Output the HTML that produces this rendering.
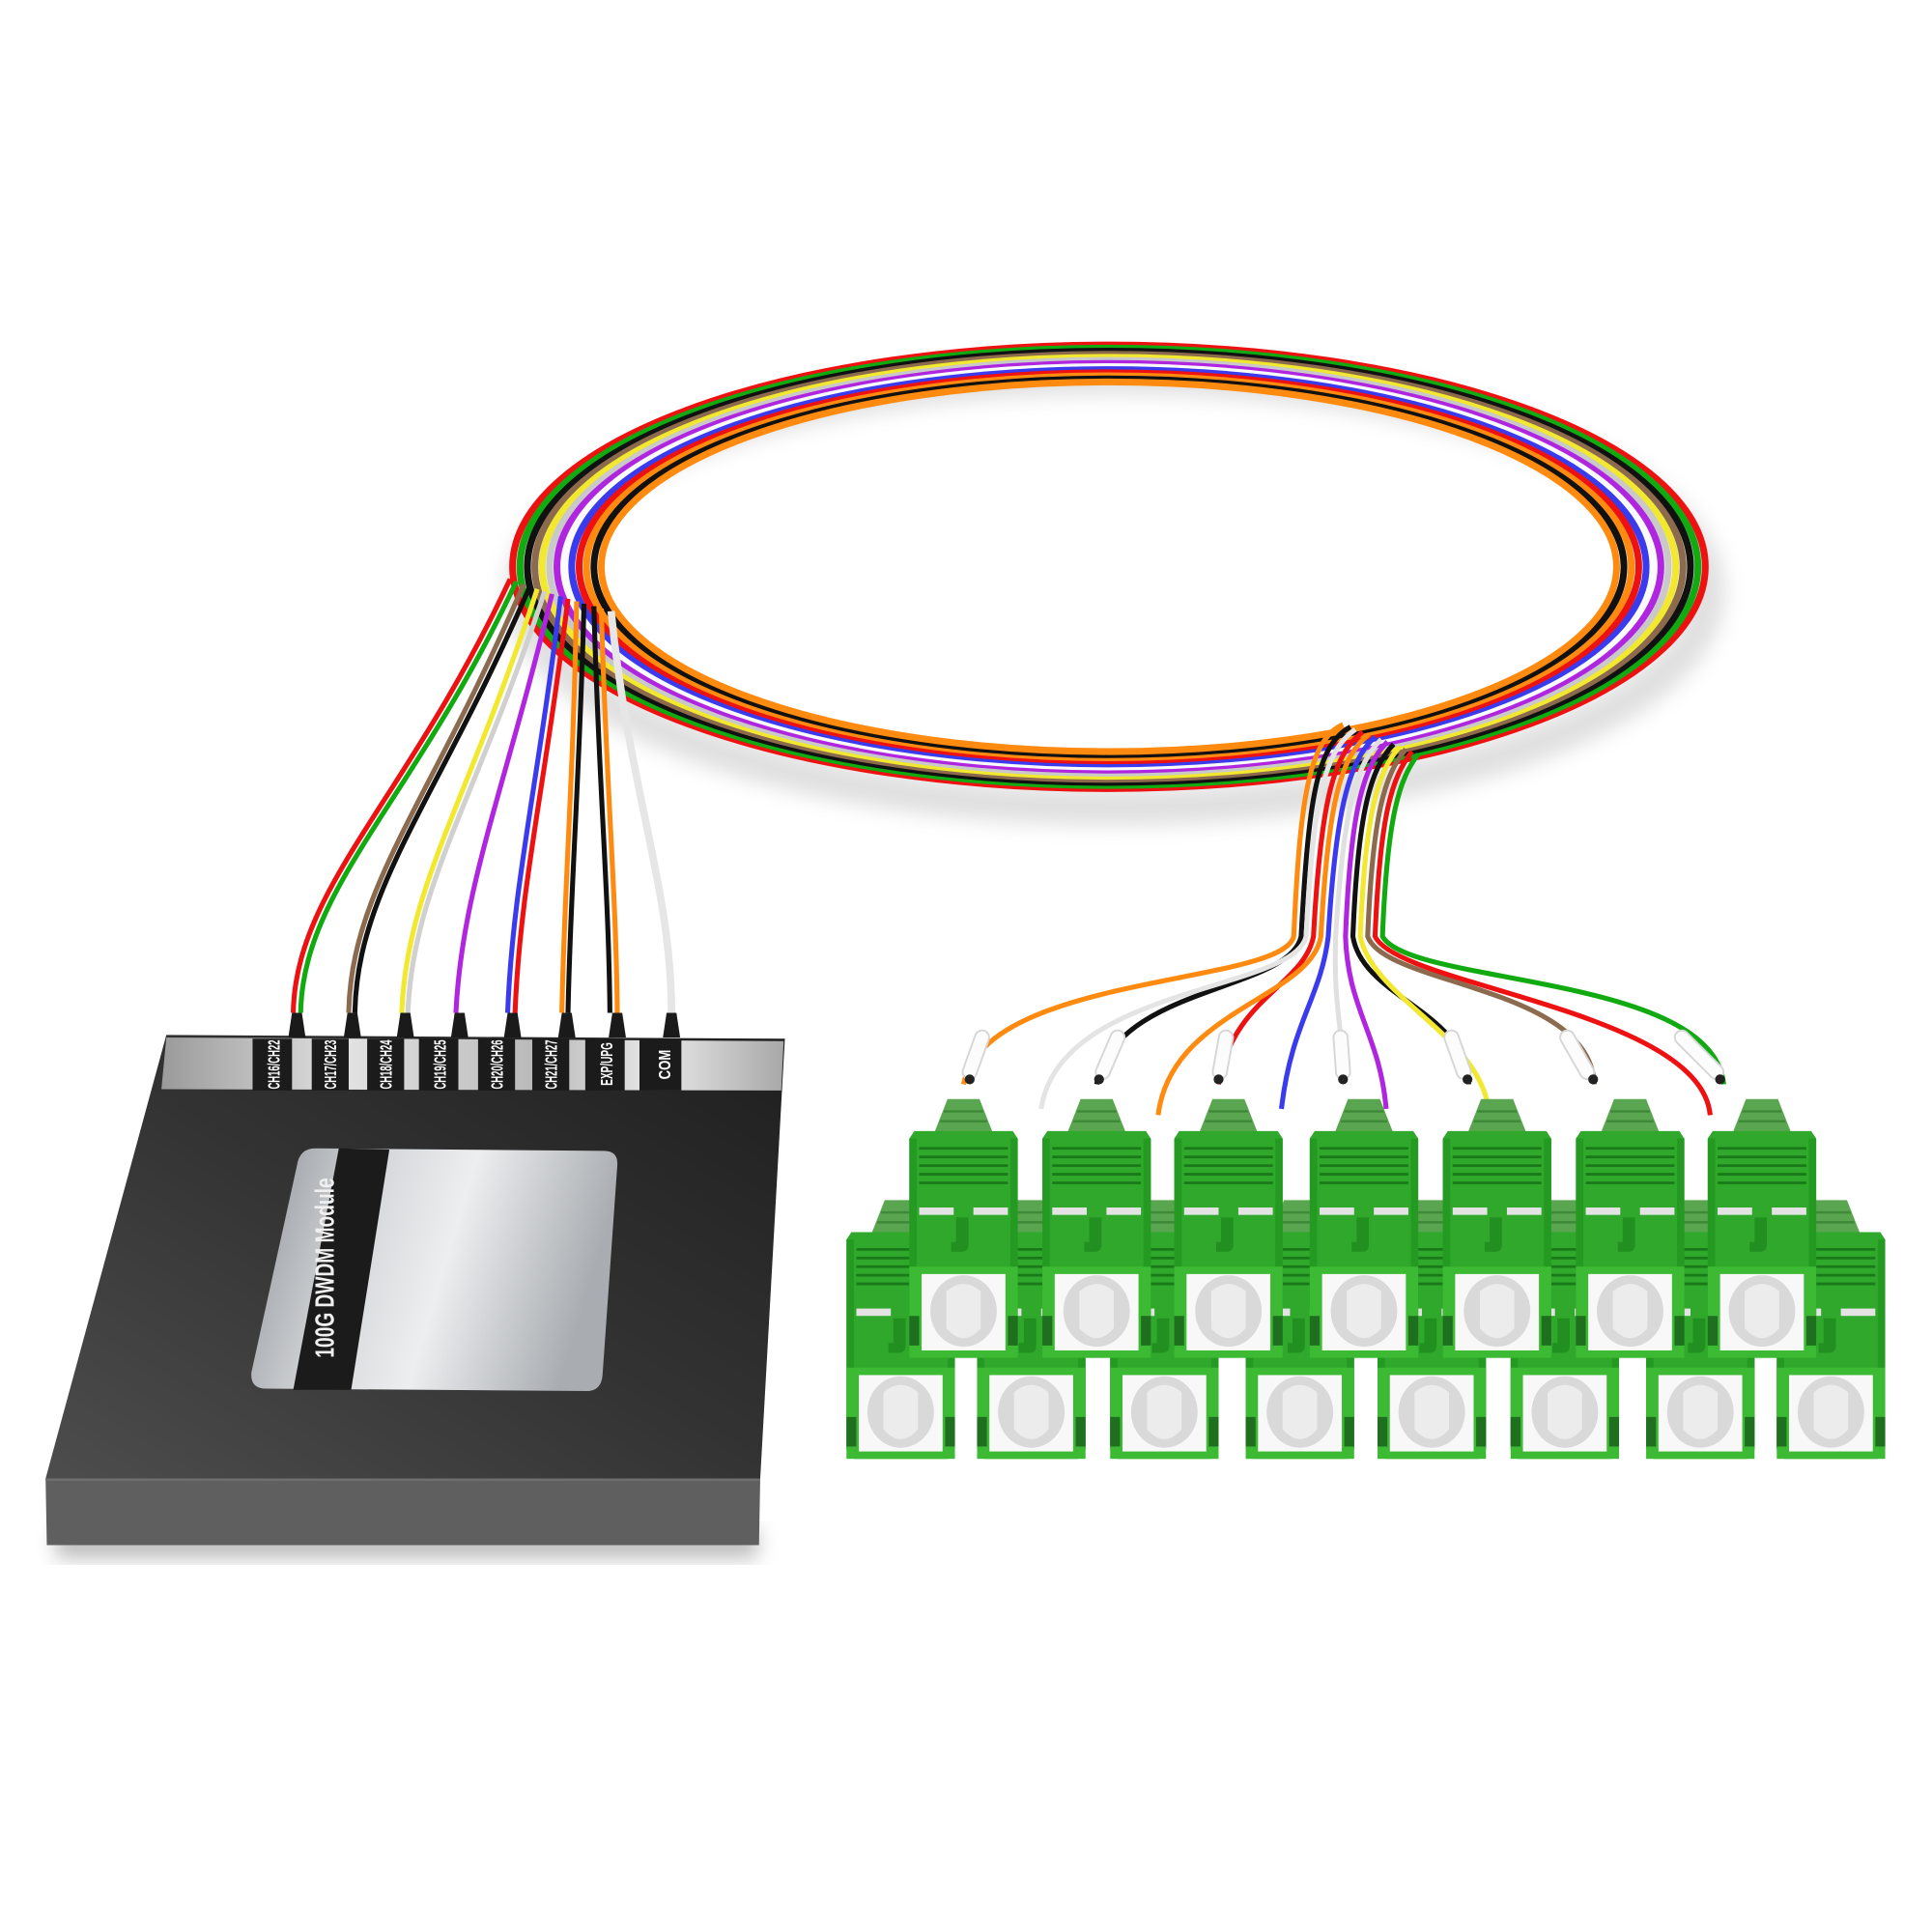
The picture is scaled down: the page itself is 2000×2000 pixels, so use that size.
<!DOCTYPE html>
<html><head><meta charset="utf-8"><style>
html,body{margin:0;padding:0;background:#fff;}
svg{display:block;}
</style></head><body>
<svg width="2000" height="2000" viewBox="0 0 1568 1568" xmlns="http://www.w3.org/2000/svg">
<defs>
<linearGradient id="topface" x1="0" y1="1" x2="1" y2="0">
<stop offset="0" stop-color="#4d4d4d"/><stop offset="0.5" stop-color="#333"/><stop offset="1" stop-color="#1f1f1f"/>
</linearGradient>
<linearGradient id="silver" x1="0" y1="0" x2="1" y2="0">
<stop offset="0" stop-color="#9a9a9a"/><stop offset="0.3" stop-color="#e2e2e2"/><stop offset="0.6" stop-color="#b9b9b9"/><stop offset="0.8" stop-color="#e8e8e8"/><stop offset="1" stop-color="#a8a8a8"/>
</linearGradient>
<linearGradient id="silver2" x1="0" y1="0" x2="1" y2="0.2">
<stop offset="0" stop-color="#8f9398"/><stop offset="0.35" stop-color="#d5d7da"/><stop offset="0.6" stop-color="#eceef0"/><stop offset="1" stop-color="#a9acb0"/>
</linearGradient>
<filter id="blur" x="-20%" y="-20%" width="140%" height="140%"><feGaussianBlur stdDeviation="8"/></filter>
<g id="conn">
 <polygon points="-13,-26 13,-26 24,2 -24,2" fill="#5aa650"/>
 <line x1="-16" y1="-16" x2="16" y2="-16" stroke="#3f8a38" stroke-width="2"/>
 <line x1="-19" y1="-8" x2="19" y2="-8" stroke="#3f8a38" stroke-width="2"/>
 <path d="M-44,6 L-40,0 L40,0 L44,6 L44,176 L38,184 L-38,184 L-44,176 Z" fill="#2fa82b"/>
 <rect x="-44" y="6" width="6" height="170" fill="#249a22"/>
 <rect x="38" y="6" width="6" height="170" fill="#249a22"/>
 <g stroke="#197a19" stroke-width="2.2">
  <line x1="-36" y1="14" x2="36" y2="14"/><line x1="-36" y1="21" x2="36" y2="21"/>
  <line x1="-36" y1="28" x2="36" y2="28"/><line x1="-36" y1="35" x2="36" y2="35"/>
  <line x1="-36" y1="42" x2="36" y2="42"/>
 </g>
 <rect x="-36" y="62" width="28" height="6" fill="#e3e3e3"/>
 <rect x="8" y="62" width="28" height="6" fill="#e3e3e3"/>
 <path d="M-6,70 L4,70 L4,92 Q4,98 -2,98 L-10,98 L-10,90 L-6,90 Z" fill="#229020"/>
 <rect x="-44" y="110" width="88" height="74" fill="#3dba33"/>
 <rect x="-34" y="116" width="68" height="62" fill="#f8f8f8"/>
 <ellipse cx="0" cy="146" rx="27" ry="29" fill="#d9d9d9"/>
 <path d="M-14,130 Q0,118 14,130 L14,160 Q0,176 -14,160 Z" fill="#ececec"/>
 <rect x="-44" y="150" width="8" height="24" fill="#1e6f1e"/>
 <rect x="36" y="150" width="8" height="24" fill="#1e6f1e"/>
</g>
</defs>

<ellipse cx="905" cy="480" rx="480" ry="175" fill="none" stroke="#000" stroke-opacity="0.12" stroke-width="30" filter="url(#blur)"/>

<g fill="none" stroke-width="5.5">
 <ellipse cx="900" cy="460" rx="484" ry="180" stroke="#ee1111"/>
 <ellipse cx="900" cy="460" rx="478" ry="177.5" stroke="#11aa11"/>
 <ellipse cx="900" cy="460" rx="472" ry="175" stroke="#111"/>
 <ellipse cx="900" cy="460" rx="466" ry="172.5" stroke="#8b6a4e"/>
 <ellipse cx="900" cy="460" rx="460" ry="170" stroke="#f2e830"/>
 <ellipse cx="900" cy="460" rx="454" ry="167.5" stroke="#c9c9c9"/>
 <ellipse cx="900" cy="460" rx="448" ry="165" stroke="#b026e0"/>
 <ellipse cx="900" cy="460" rx="442" ry="162.5" stroke="#fafafa"/>
 <ellipse cx="900" cy="460" rx="436" ry="160" stroke="#3a3aee"/>
 <ellipse cx="900" cy="460" rx="430" ry="157.5" stroke="#ee1111"/>
 <ellipse cx="900" cy="460" rx="424" ry="155" stroke="#ff8a10"/>
 <ellipse cx="900" cy="460" rx="418" ry="152.5" stroke="#111"/>
 <ellipse cx="900" cy="460" rx="412" ry="150" stroke="#ff8a10"/>
</g>

<g fill="none" stroke-width="4">
 <path d="M1090,588 C1062,600 1055,650 1050,760 C1040,800 800,790 782,880" stroke="#ff8a10"/>
 <path d="M1096,590 C1068,605 1062,650 1056,760 C1046,805 905,800 890,880" stroke="#111"/>
 <path d="M1100,592 C1074,610 1066,650 1060,760 C1050,805 860,800 845,900" stroke="#e4e4e4"/>
 <path d="M1106,594 C1082,612 1072,650 1066,760 C1058,800 1000,810 989,880" stroke="#ee1111"/>
 <path d="M1111,596 C1088,614 1078,650 1072,760 C1064,810 950,820 940,905" stroke="#ff8a10"/>
 <path d="M1116,598 C1094,618 1084,660 1078,760 C1072,810 1048,830 1040,900" stroke="#3a3aee"/>
 <path d="M1121,600 C1100,620 1090,660 1084,760 C1082,820 1090,830 1090,880" stroke="#e0e0e0"/>
 <path d="M1126,602 C1106,622 1096,660 1092,760 C1094,820 1120,840 1125,900" stroke="#b026e0"/>
 <path d="M1131,604 C1112,624 1102,660 1098,760 C1106,810 1190,820 1192,880" stroke="#111"/>
 <path d="M1136,606 C1118,626 1108,660 1104,760 C1114,810 1200,840 1208,900" stroke="#f2e830"/>
 <path d="M1141,608 C1124,628 1114,660 1110,760 C1124,800 1290,800 1294,880" stroke="#8b6a4e"/>
 <path d="M1146,610 C1130,630 1120,660 1116,760 C1134,800 1380,820 1388,905" stroke="#ee1111"/>
 <path d="M1151,612 C1136,632 1126,660 1122,760 C1144,800 1390,790 1399,880" stroke="#11aa11"/>
</g>
<g stroke="#d6d6d6" stroke-width="13" stroke-linecap="round">
 <line x1="797" y1="842" x2="787" y2="870"/>
 <line x1="907" y1="842" x2="895" y2="870"/>
 <line x1="995" y1="842" x2="990" y2="870"/>
 <line x1="1088" y1="842" x2="1090" y2="870"/>
 <line x1="1178" y1="842" x2="1188" y2="870"/>
 <line x1="1272" y1="842" x2="1288" y2="870"/>
 <line x1="1365" y1="842" x2="1393" y2="870"/>
</g>
<g stroke="#fcfcfc" stroke-width="10" stroke-linecap="round">
 <line x1="797" y1="842" x2="787" y2="870"/>
 <line x1="907" y1="842" x2="895" y2="870"/>
 <line x1="995" y1="842" x2="990" y2="870"/>
 <line x1="1088" y1="842" x2="1090" y2="870"/>
 <line x1="1178" y1="842" x2="1188" y2="870"/>
 <line x1="1272" y1="842" x2="1288" y2="870"/>
 <line x1="1365" y1="842" x2="1393" y2="870"/>
</g>
<g fill="#222">
 <circle cx="787" cy="876" r="4"/><circle cx="892" cy="876" r="4"/><circle cx="989" cy="876" r="4"/>
 <circle cx="1090" cy="876" r="4"/><circle cx="1191" cy="876" r="4"/><circle cx="1293" cy="876" r="4"/><circle cx="1396" cy="876" r="4"/>
</g>

<g fill="none" stroke-width="4">
 <path d="M238,822 C240,720 330,650 414,470" stroke="#ee1111"/>
 <path d="M244,822 C246,720 336,650 419,472" stroke="#11aa11"/>
 <path d="M283,822 C285,720 350,650 425,474" stroke="#8b6a4e"/>
 <path d="M288,822 C290,720 355,650 430,476" stroke="#111"/>
 <path d="M326,822 C330,720 380,650 436,478" stroke="#f2e830"/>
 <path d="M331,822 C335,720 386,650 442,480" stroke="#d0d0d0"/>
 <path d="M370,822 C375,720 410,640 448,482" stroke="#b026e0"/>
 <path d="M412,822 C416,720 436,640 455,484" stroke="#3a3aee"/>
 <path d="M418,822 C422,720 442,640 461,486" stroke="#ee1111"/>
 <path d="M456,822 C458,720 465,640 468,488" stroke="#ff8a10"/>
 <path d="M461,822 C463,720 470,640 474,490" stroke="#111"/>
 <path d="M495,822 C494,720 486,640 482,492" stroke="#111"/>
 <path d="M501,822 C500,720 492,640 488,494" stroke="#ff8a10"/>
 <path d="M545,822 C545,720 510,640 496,496" stroke="#e6e6e6" stroke-width="6"/>
</g>

<rect x="45" y="1240" width="570" height="25" fill="#000" opacity="0.25" filter="url(#blur)"/>
<polygon points="135,840 637,843 617,1200 37,1200" fill="url(#topface)"/>
<polygon points="37,1200 617,1200 616,1254 38,1254" fill="#5f5f5f"/>
<line x1="37" y1="1201" x2="617" y2="1201" stroke="#6e6e6e" stroke-width="2"/>
<polygon points="135,842 636,845 634,885 131,884" fill="url(#silver)"/>
<g fill="#1b1b1b">
 <rect x="205" y="843" width="32" height="42"/>
 <rect x="253" y="843" width="30" height="42"/>
 <rect x="298" y="843" width="30" height="42"/>
 <rect x="340" y="843" width="32" height="42"/>
 <rect x="388" y="843" width="30" height="42"/>
 <rect x="432" y="843" width="30" height="42"/>
 <rect x="475" y="843" width="32" height="42"/>
 <rect x="519" y="843" width="34" height="42"/>
</g>
<g fill="#fff" font-family="Liberation Sans, sans-serif" font-weight="bold" font-size="13.5">
 <text transform="translate(227,884) rotate(-90)" textLength="40" lengthAdjust="spacingAndGlyphs">CH16/CH22</text>
 <text transform="translate(273,884) rotate(-90)" textLength="40" lengthAdjust="spacingAndGlyphs">CH17/CH23</text>
 <text transform="translate(318,884) rotate(-90)" textLength="40" lengthAdjust="spacingAndGlyphs">CH18/CH24</text>
 <text transform="translate(362,884) rotate(-90)" textLength="40" lengthAdjust="spacingAndGlyphs">CH19/CH25</text>
 <text transform="translate(408,884) rotate(-90)" textLength="40" lengthAdjust="spacingAndGlyphs">CH20/CH26</text>
 <text transform="translate(452,884) rotate(-90)" textLength="40" lengthAdjust="spacingAndGlyphs">CH21/CH27</text>
 <text transform="translate(497,881) rotate(-90)" textLength="35" lengthAdjust="spacingAndGlyphs">EXP/UPG</text>
 <text transform="translate(544,876) rotate(-90)" textLength="24" lengthAdjust="spacingAndGlyphs">COM</text>
</g>
<g fill="#1a1a1a">
 <path d="M234,842 L237,822 L245,822 L248,842 Z"/>
 <path d="M279,842 L282,822 L290,822 L293,842 Z"/>
 <path d="M322,842 L325,822 L333,822 L336,842 Z"/>
 <path d="M366,842 L369,822 L377,822 L380,842 Z"/>
 <path d="M409,842 L412,822 L420,822 L423,842 Z"/>
 <path d="M453,842 L456,822 L464,822 L467,842 Z"/>
 <path d="M494,842 L497,822 L505,822 L508,842 Z"/>
 <path d="M538,842 L541,822 L549,822 L552,842 Z"/>
</g>
<path d="M256,932 L490,934 Q502,934 501,946 L489,1116 Q488,1129 476,1129 L216,1127 Q203,1127 204,1114 L241,946 Q243,932 256,932 Z" fill="url(#silver2)"/>
<polygon points="275,932 316,933 285,1128 238,1128" fill="#1b1b1b"/>
<text transform="translate(271,1102) rotate(-90)" fill="#f0f0f0" font-family="Liberation Sans, sans-serif" font-weight="bold" font-size="22" textLength="146" lengthAdjust="spacingAndGlyphs">100G DWDM Module</text>

<use href="#conn" x="731" y="1000"/>
<use href="#conn" x="837" y="1000"/>
<use href="#conn" x="945" y="1000"/>
<use href="#conn" x="1055" y="1000"/>
<use href="#conn" x="1162" y="1000"/>
<use href="#conn" x="1270" y="1000"/>
<use href="#conn" x="1380" y="1000"/>
<use href="#conn" x="1486" y="1000"/>
<use href="#conn" x="782" y="918"/>
<use href="#conn" x="890" y="918"/>
<use href="#conn" x="997" y="918"/>
<use href="#conn" x="1107" y="918"/>
<use href="#conn" x="1215" y="918"/>
<use href="#conn" x="1323" y="918"/>
<use href="#conn" x="1430" y="918"/>
</svg>
</body></html>
